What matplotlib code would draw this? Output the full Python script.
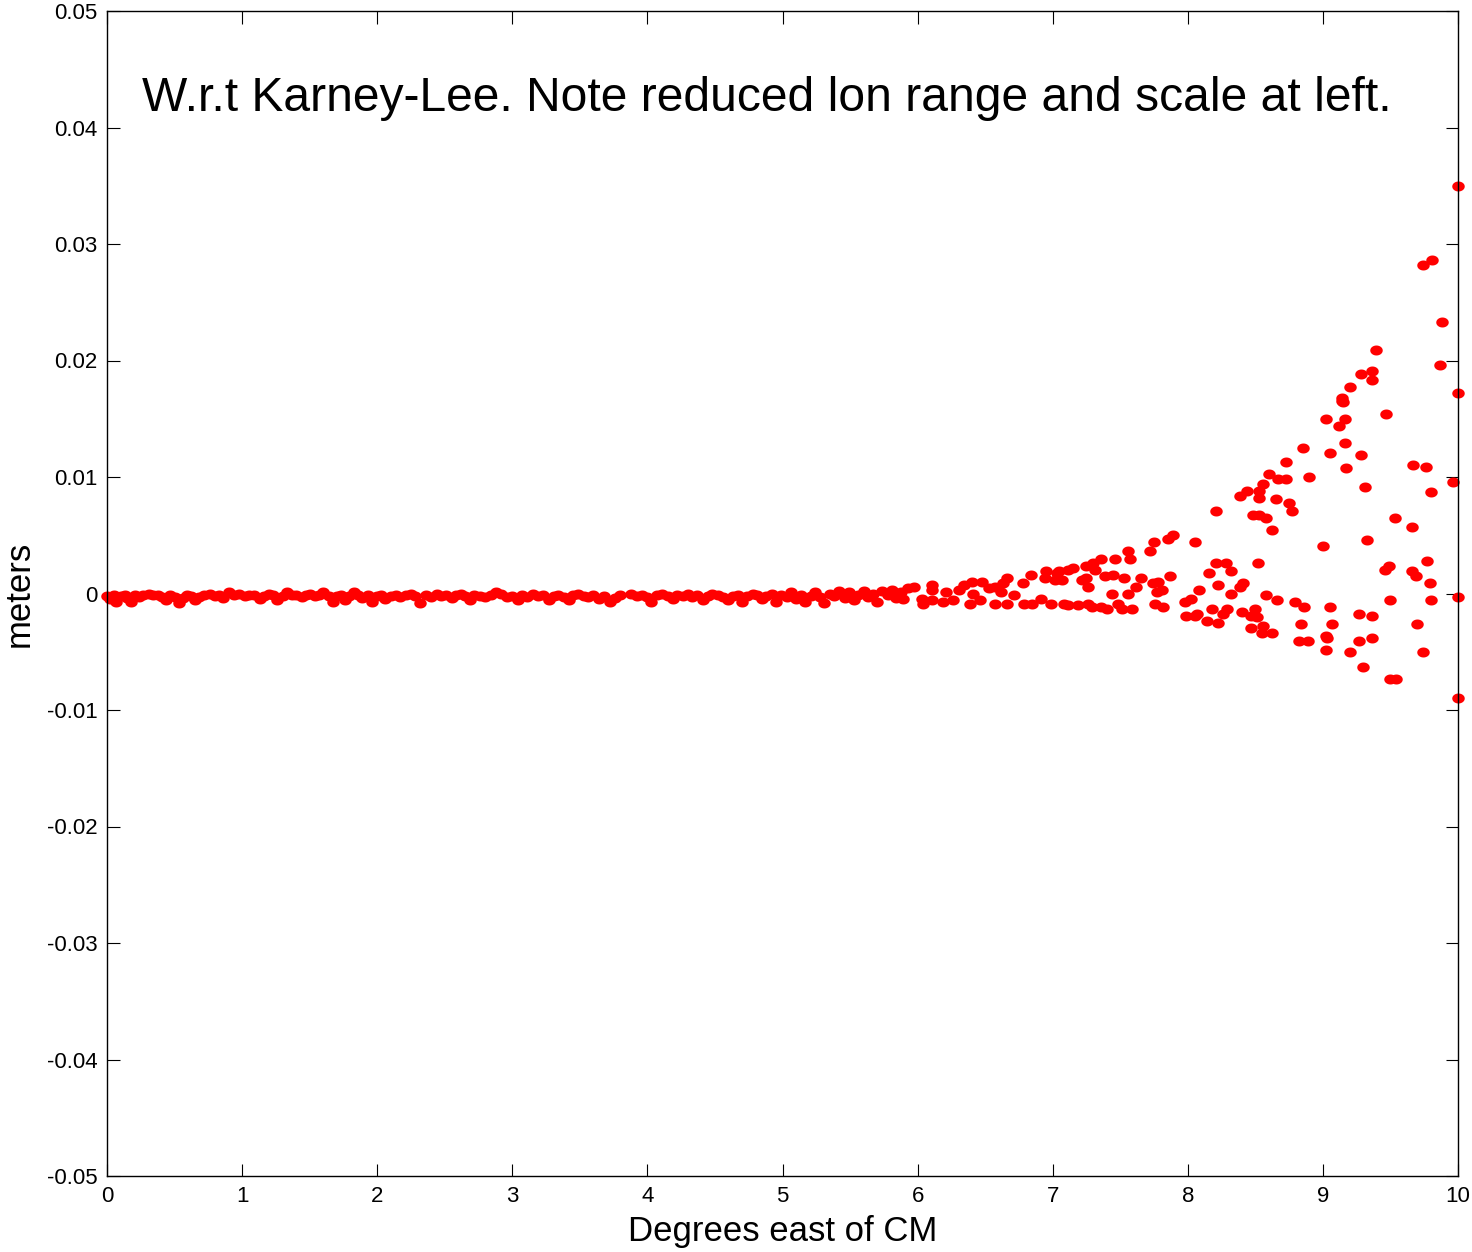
import numpy as np
import matplotlib.pyplot as plt
from matplotlib.path import Path

plt.rcParams['font.family'] = ['Liberation Sans', 'DejaVu Sans']

# values: x in degrees, y in millimetres (divided by 1000 below)
band_x = [0.00, 0.02, 0.05, 0.07, 0.10, 0.13, 0.15, 0.18, 0.21, 0.24, 0.27, 0.31, 0.34, 0.38,
          0.41, 0.44, 0.47, 0.50, 0.53, 0.56, 0.59, 0.62, 0.65, 0.68, 0.72, 0.76, 0.80, 0.83,
          0.86, 0.90, 0.94, 0.98, 1.02, 1.05, 1.09, 1.13, 1.16, 1.20, 1.23, 1.26, 1.30, 1.33,
          1.37, 1.40, 1.44, 1.47, 1.50, 1.54, 1.57, 1.60, 1.64, 1.67, 1.70, 1.73, 1.76, 1.79,
          1.83, 1.86, 1.89, 1.93, 1.96, 2.00, 2.03, 2.06, 2.10, 2.14, 2.17, 2.21, 2.25, 2.28,
          2.32, 2.36, 2.40, 2.44, 2.47, 2.51, 2.55, 2.58, 2.62, 2.65, 2.69, 2.72, 2.76, 2.80,
          2.84, 2.88, 2.92, 2.96, 3.00, 3.04, 3.07, 3.11, 3.15, 3.19, 3.23, 3.27, 3.31, 3.34,
          3.38, 3.42, 3.45, 3.49, 3.53, 3.56, 3.60, 3.64, 3.68, 3.72, 3.76, 3.80, 3.88, 3.92,
          3.96, 4.00, 4.03, 4.07, 4.11, 4.15, 4.19, 4.22, 4.26, 4.30, 4.33, 4.37, 4.41, 4.45,
          4.48, 4.52, 4.56, 4.60, 4.63, 4.67, 4.70, 4.74, 4.78, 4.81, 4.85, 4.88, 4.92, 4.95,
          4.99, 5.03, 5.06, 5.10, 5.14, 5.17, 5.21, 5.24, 5.28, 5.31, 5.35, 5.38, 5.42, 5.46,
          5.49, 5.53, 5.56, 5.60, 5.63, 5.67, 5.70, 5.74, 5.78, 5.81, 5.84]
band_y = [-0.2, -0.5, -0.1, -0.7, -0.2, -0.1, -0.4, -0.7, -0.1, -0.3, -0.1, 0.0, -0.1, -0.1,
          -0.3, -0.6, -0.1, -0.3, -0.8, -0.4, -0.1, -0.2, -0.6, -0.3, -0.1, 0.0, -0.2, -0.1,
          -0.4, 0.1, -0.1, 0.0, -0.2, -0.1, -0.1, -0.5, -0.2, 0.0, -0.1, -0.6, -0.2, 0.1,
          -0.1, -0.1, -0.3, -0.1, 0.0, -0.2, -0.1, 0.1, -0.2, -0.7, -0.2, -0.1, -0.6, -0.2,
          0.1, -0.1, -0.4, -0.1, -0.7, -0.2, -0.1, -0.5, -0.2, -0.1, -0.3, -0.1, 0.0, -0.2,
          -0.8, -0.1, -0.3, 0.0, -0.2, -0.1, -0.4, -0.1, 0.0, -0.2, -0.6, -0.1, -0.2, -0.3,
          -0.1, 0.1, 0.0, -0.3, -0.2, -0.6, -0.1, -0.3, 0.0, -0.2, -0.1, -0.6, -0.2, -0.1,
          -0.3, -0.6, -0.1, 0.0, -0.2, -0.3, -0.1, -0.5, -0.2, -0.7, -0.4, -0.1, 0.0, -0.2,
          -0.1, -0.3, -0.7, -0.1, 0.0, -0.2, -0.5, -0.1, -0.2, 0.0, -0.3, -0.1, -0.6, -0.2,
          0.0, -0.1, -0.3, -0.6, -0.2, -0.1, -0.7, -0.2, 0.0, -0.1, -0.5, -0.2, 0.0, -0.7,
          -0.1, -0.3, 0.1, -0.5, -0.1, -0.7, -0.2, 0.1, -0.3, -0.8, 0.0, -0.2, 0.2, -0.4,
          0.1, -0.6, -0.1, 0.2, -0.3, 0.0, -0.7, 0.2, -0.1, 0.3, -0.4]

mid_x = [7.89, 7.85, 7.75, 8.05, 7.72, 7.56, 7.57, 7.46, 7.36, 7.30, 7.25, 7.31, 7.15, 7.11,
         7.05, 7.03, 6.95, 6.94, 7.02, 7.07, 6.84, 6.78, 6.66, 6.63, 6.62, 6.71, 6.57, 6.53,
         6.48, 6.40, 6.34, 6.31, 6.41, 6.46, 6.21, 6.11, 6.11, 5.97, 5.93, 5.88, 5.89, 6.03,
         6.04, 6.11, 6.19, 6.26, 6.39, 6.57, 6.66, 6.79, 6.85, 6.91, 6.99, 7.08, 7.11, 7.19,
         7.26, 7.29, 7.36, 7.40, 7.48, 7.51, 7.59, 7.22, 7.26, 7.25, 7.39, 7.45, 7.53, 7.44,
         7.56, 7.62, 7.65, 7.74, 7.78, 7.77, 7.81, 7.87, 7.76, 7.82, 7.98, 8.02, 8.08, 7.99,
         8.05]
mid_y = [5.06, 4.64, 4.46, 4.38, 3.61, 3.69, 3.00, 3.00, 3.00, 2.66, 2.40, 2.06, 2.15, 2.06,
         1.97, 1.80, 1.89, 1.37, 1.12, 1.20, 1.63, 0.86, 1.37, 0.86, 0.17, -0.17, 0.60, 0.43,
         1.03, 1.03, 0.69, 0.34, 0.0, -0.52, 0.17, 0.69, 0.34, 0.60, 0.43, 0.09, -0.43, -0.43,
         -0.86, -0.60, -0.77, -0.60, -0.86, -0.86, -0.94, -0.86, -0.86, -0.43, -0.86, -0.86, -1.03, -1.03,
         -0.86, -1.20, -1.20, -1.37, -0.86, -1.37, -1.37, 1.20, 0.52, 1.37, 1.46, 1.63, 1.29, 0.0,
         0.0, 0.52, 1.29, 0.86, 1.03, 0.09, 0.34, 1.46, -0.86, -1.20, -0.77, -0.43, 0.34, -1.89,
         -1.89]

far_x = [9.15, 9.02, 9.16, 9.12, 9.47, 9.16, 8.85, 9.05, 9.28, 8.73, 9.67, 9.76, 9.17, 8.60,
         8.67, 8.73, 8.90, 9.96, 8.56, 9.31, 8.44, 8.53, 8.39, 8.53, 8.65, 9.80, 8.75, 8.77,
         8.21, 8.48, 8.53, 8.58, 9.53, 9.66, 8.62, 9.00, 9.33, 8.21, 8.28, 8.52, 9.77, 8.32,
         8.16, 9.46, 9.49, 9.66, 9.69, 8.41, 8.39, 8.22, 9.79, 8.32, 8.58, 8.66, 8.79, 8.86,
         9.05, 9.50, 9.80, 10.0, 8.18, 8.29, 8.50, 8.07, 8.26, 8.40, 8.47, 8.51, 8.14, 8.22,
         9.27, 9.36, 8.84, 9.07, 9.70, 8.47, 8.56, 8.55, 8.62, 9.02, 9.03, 8.82, 8.89, 9.27,
         9.36, 9.02, 9.20, 9.74, 9.30, 9.50, 9.54, 10.0,
         10.0, 9.74, 9.81, 9.88, 9.39, 9.87, 9.28, 9.36, 9.36, 9.20, 9.14, 9.14, 10.0]
far_y = [16.40, 15.02, 15.02, 14.34, 15.45, 12.96, 12.45, 12.10, 11.85, 11.25, 11.07, 10.90, 10.73, 10.30,
         9.79, 9.87, 9.96, 9.61, 9.36, 9.18, 8.84, 8.84, 8.33, 8.24, 8.07, 8.67, 7.73, 7.12,
         7.12, 6.78, 6.78, 6.52, 6.44, 5.67, 5.41, 4.12, 4.55, 2.58, 2.66, 2.58, 2.83, 1.89,
         1.80, 2.06, 2.32, 1.97, 1.46, 0.94, 0.60, 0.69, 0.94, 0.0, -0.17, -0.60, -0.77, -1.12,
         -1.12, -0.60, -0.52, -0.26, -1.37, -1.37, -1.37, -1.72, -1.72, -1.55, -1.97, -2.06, -2.40, -2.49,
         -1.72, -1.89, -2.66, -2.58, -2.58, -3.00, -2.75, -3.35, -3.43, -3.61, -3.78, -4.12, -4.12, -4.12,
         -3.78, -4.89, -5.06, -5.06, -6.35, -7.38, -7.38, -9.01,
         35.0, 28.2, 28.6, 23.3, 20.9, 19.6, 18.8, 19.1, 18.3, 17.7, 16.8, 16.5, 17.2]

yticks = [-0.05, -0.04, -0.03, -0.02, -0.01, 0, 0.01, 0.02, 0.03, 0.04, 0.05]
ytick_labels = ['-0.05', '-0.04', '-0.03', '-0.02', '-0.01', '0', '0.01', '0.02', '0.03', '0.04', '0.05']
xticks = list(range(0, 11))

x = np.array(band_x + mid_x + far_x)
y = np.array(band_y + mid_y + far_y) / 1000.0

# dots in the source are a bit wider than tall
t = np.linspace(0, 2 * np.pi, 40)
dot = Path(np.column_stack([np.cos(t), 0.8 * np.sin(t)]), closed=True)

fig = plt.figure(figsize=(14.72, 12.52), dpi=100)
ax = fig.add_axes([107/1472, 1 - 1176/1252, 1351/1472, 1165/1252])
ax.plot(x, y, linestyle='none', marker=dot, color='red', markersize=9,
        markeredgewidth=0, clip_on=False)

ax.set_xlim(0, 10)
ax.set_ylim(-0.05, 0.05)
ax.set_xticks(xticks)
ax.set_xticklabels([str(t) for t in xticks])
ax.set_yticks(yticks)
ax.set_yticklabels(ytick_labels)
ax.tick_params(direction='in', length=9, width=0.8, labelsize=16, top=True, right=True, pad=7)
for s in ax.spines.values():
    s.set_linewidth(1.0)

ax.set_xlabel('Degrees east of CM', fontsize=25, labelpad=6)
ax.set_ylabel('meters', fontsize=25, labelpad=8)
ax.text(0.026, 0.925, 'W.r.t Karney-Lee. Note reduced lon range and scale at left.',
        transform=ax.transAxes, fontsize=34.6, va='center', ha='left')

fig.savefig('out.png', dpi=100)
